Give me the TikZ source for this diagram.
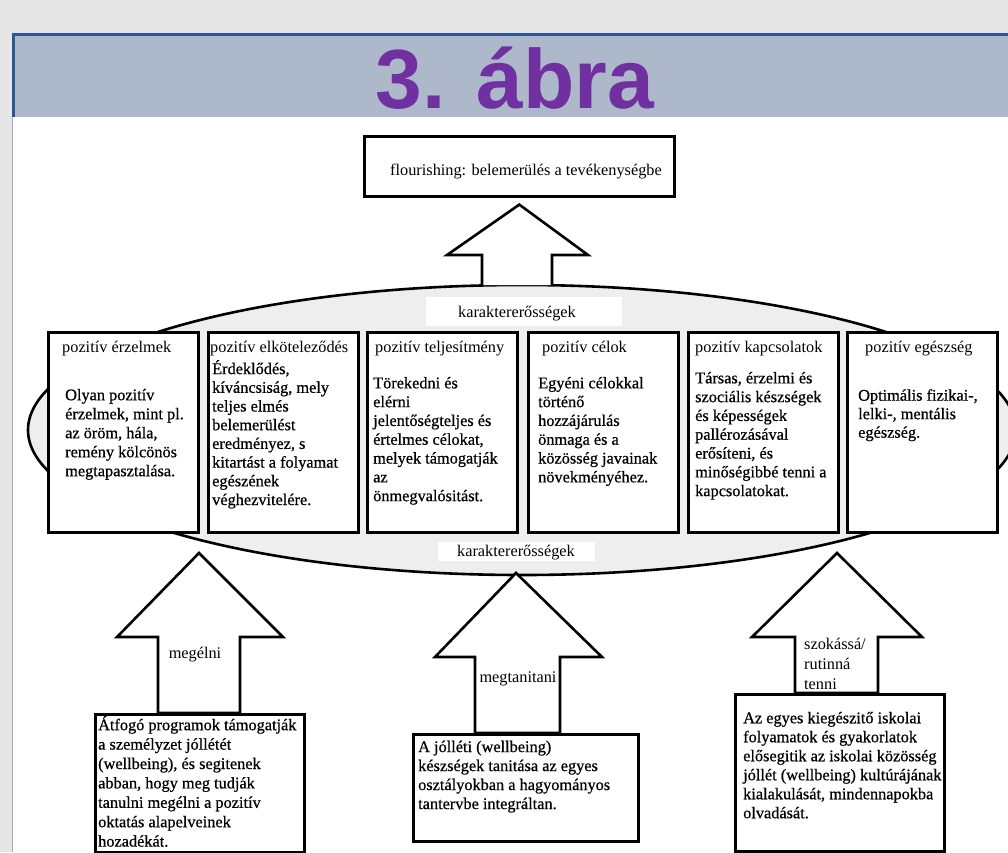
\documentclass[tikz,border=0pt]{standalone}
\usepackage{fontspec}
\setmainfont{Liberation Serif}
\newfontfamily\bodyfont{Liberation Serif}[FakeBold=0.6]
\newfontfamily\titlefont{Liberation Sans}
\usetikzlibrary{calc}
\definecolor{pagegray}{HTML}{E6E6E6}
\definecolor{bandblue}{HTML}{ADB9CB}
\definecolor{banddark}{HTML}{2F5597}
\definecolor{edgeblue}{HTML}{A3ACC3}
\definecolor{titlepurple}{HTML}{7030A0}
\definecolor{ellgray}{HTML}{EEEEEE}
\begin{document}
\begin{tikzpicture}[x=1pt,y=-1pt,
  txt/.style={font=\fontsize{16.3}{#1}\selectfont, inner sep=0pt, anchor=north west, align=left, execute at begin node=\strut},
  txt/.default=19,
  body/.style={txt=#1, font=\bodyfont\fontsize{16.3}{#1}\selectfont},
  body/.default=19,
  lbl/.style={font=\fontsize{16.3}{19}\selectfont, inner sep=0pt, anchor=base},
  box/.style={draw=black, line width=2.6pt, fill=white, inner sep=0pt, anchor=north west},
  blockarrow/.style={draw=black, line width=2.6pt, line join=miter},
  labelrect/.style={fill=white, inner sep=0pt, anchor=north west}]
\useasboundingbox (0,0) rectangle (1008,852);
\fill[pagegray] (0,0) rectangle (1008,852);
% slide area
\fill[white] (12,117) rectangle (1008,852);
\draw[edgeblue, line width=1.2pt] (12.6,117) -- (12.6,852);
\fill[bandblue] (12,33) rectangle (1008,117);
\fill[banddark] (12,33) rectangle (1008,36);
\fill[banddark] (12,33) rectangle (15,117);
\node[font=\titlefont\bfseries\fontsize{84}{84}\selectfont, text=titlepurple, inner sep=0pt, anchor=base] (title) at (515,108) {3. ábra};

% ellipse of character strengths
\draw[line width=2.6pt, fill=ellgray] (522,430) ellipse [x radius=494, y radius=145];
\node[labelrect, minimum width=196pt, minimum height=29pt] (ktoprect) at (426,297) {};
\node[lbl] (ktop) at (517,317) {karaktererősségek};
\node[labelrect, minimum width=157pt, minimum height=19pt] (kbotrect) at (438,542) {};
\node[lbl] (kbot) at (516,556) {karaktererősségek};

% six boxes
\node[box, minimum width=150pt, minimum height=200pt] (b1) at (47,331) {};
\node[box, minimum width=150pt, minimum height=200pt] (b2) at (207,331) {};
\node[box, minimum width=150pt, minimum height=200pt] (b3) at (366,331) {};
\node[box, minimum width=150pt, minimum height=200pt] (b4) at (527,331) {};
\node[box, minimum width=150pt, minimum height=200pt] (b5) at (687,331) {};
\node[box, minimum width=150pt, minimum height=200pt] (b6) at (846,331) {};

\node[txt] (h1) at (62,338.7) {pozitív érzelmek};
\node[txt] (h2) at (210,338.7) {pozitív elköteleződés};
\node[txt] (h3) at (375,338.7) {pozitív teljesítmény};
\node[txt] (h4) at (542,338.7) {pozitív célok};
\node[txt] (h5) at (695,338.7) {pozitív kapcsolatok};
\node[txt] (h6) at (865,338.7) {pozitív egészség};

\node[body=19] (t1) at (65,388.7) {Olyan pozitív\\érzelmek, mint pl.\\az öröm, hála,\\remény kölcönös\\megtapasztalása.};
\node[body=18.7] (t2) at (212,359.9) {Érdeklődés,\\kíváncsiság, mely\\teljes elmés\\belemerülést\\eredményez, s\\kitartást a folyamat\\egészének\\véghezvitelére.};
\node[body=18.8] (t3) at (373,376.8) {Törekedni és\\elérni\\jelentőségteljes és\\értelmes célokat,\\melyek támogatják\\az\\önmegvalósitást.};
\node[body=18.8] (t4) at (538,376.8) {Egyéni célokkal\\történő\\hozzájárulás\\önmaga és a\\közösség javainak\\növekményéhez.};
\node[body=18.8] (t5) at (695,371.8) {Társas, érzelmi és\\szociális készségek\\és képességek\\pallérozásával\\erősíteni, és\\minőségibbé tenni a\\kapcsolatokat.};
\node[body=18.5] (t6) at (858,389) {Optimális fizikai-,\\lelki-, mentális\\egészség.};

% top box and arrow
\node[box, minimum width=310pt, minimum height=60pt] (top) at (363,135) {};
\node[txt] (toptxt) at (390,161.7) {flourishing: belemerülés a tevékenységbe};
\coordinate (topbase) at (517,284);
\filldraw[blockarrow, fill=white] ($(topbase)+(-35,1)$) -- ++(0,-30) -- ++(-35,0) -- ($(top.south)+(0,7)$) -- ($(topbase)+(71,-29)$) -- ++(-36,0) -- ++(0,30);

% bottom-left
\coordinate (blbase) at (199,713);
\filldraw[blockarrow, fill=white] ($(blbase)+(-41,0)$) -- ++(0,-76) -- ++(-41,0) -- (199,553) -- ($(blbase)+(84,-76)$) -- ++(-43,0) -- ++(0,76) -- cycle;
\node[box, minimum width=209pt, minimum height=138pt] (bl) at (94,713) {};
\node[lbl] (megelni) at (195,658) {megélni};
\node[body=19.4] (bltxt) at (98,716) {Átfogó programok támogatják\\a személyzet jóllétét\\(wellbeing), és segitenek\\abban, hogy meg tudják\\tanulni megélni a pozitív\\oktatás alapelveinek\\hozadékát.};

% bottom-middle
\coordinate (bmbase) at (518,733);
\filldraw[blockarrow, fill=white] ($(bmbase)+(-43,0)$) -- ++(0,-76) -- ++(-40,0) -- (kbot.south |- 0,573) -- ($(bmbase)+(84,-76)$) -- ++(-42,0) -- ++(0,76) -- cycle;
\node[box, minimum width=225pt, minimum height=107pt] (bm) at (412,733) {};
\node[lbl] (megtan) at (518,682) {megtanitani};
\node[body] (bmtxt) at (418,740.5) {A jólléti (wellbeing)\\készségek tanitása az egyes\\osztályokban a hagyományos\\tantervbe integráltan.};

% bottom-right
\coordinate (brbase) at (837,693);
\filldraw[blockarrow, fill=white] ($(brbase)+(-42,0)$) -- ++(0,-56) -- ++(-43,0) -- (837,553) -- ($(brbase)+(85,-56)$) -- ++(-44,0) -- ++(0,56) -- cycle;
\node[box, minimum width=209pt, minimum height=157pt] (br) at (734,693) {};
\node[txt=20] (szok) at (804,638) {szokássá/\\rutinná\\tenni};
\node[body] (brtxt) at (743,711.7) {Az egyes kiegészitő iskolai\\folyamatok és gyakorlatok\\elősegitik az iskolai közösség\\jóllét (wellbeing) kultúrájának\\kialakulását, mindennapokba\\olvadását.};
\end{tikzpicture}
\end{document}
